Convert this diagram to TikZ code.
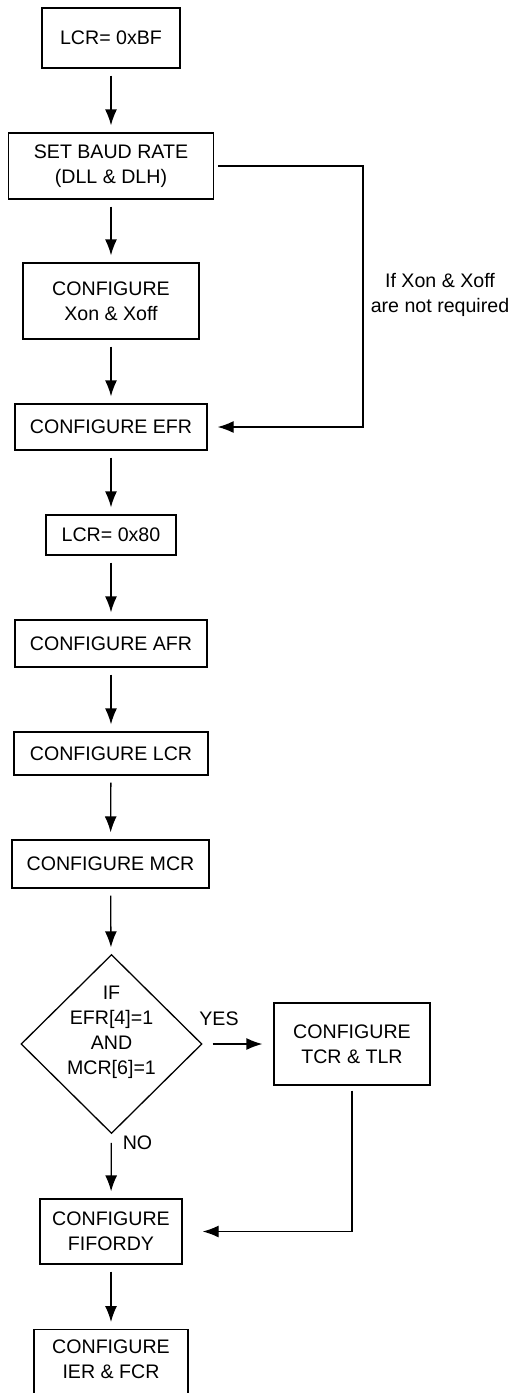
\documentclass[tikz,border=0pt]{standalone}
\usepackage{fontspec}
\setmainfont{Liberation Sans}
\usepackage{tikz}
\usetikzlibrary{arrows.meta,positioning,shapes.geometric,calc}

\begin{document}
\begin{tikzpicture}[
      x=0.5pt, y=-0.5pt,
      every node/.style={font=\fontsize{9.8}{12.5}\selectfont},
      stepbox/.style={draw,line width=0.65pt,align=center,inner sep=1pt},
      decision/.style={diamond,draw,line width=0.65pt,align=center,inner sep=-10pt,minimum width=90.5pt,minimum height=89.5pt},
      note/.style={align=center,inner sep=0pt},
      arr/.style={-{Latex[length=8pt,width=6pt]}, line width=0.65pt, shorten <=3.5pt, shorten >=3.5pt}
  ]
    \useasboundingbox (0,0) rectangle (514,1393);

    \node[stepbox,minimum width=69pt,minimum height=30pt] (lcrA) at (111,38) {LCR= 0xBF};
    \node[stepbox,minimum width=102.5pt,minimum height=33pt] (baud) at (111,166)
      {SET BAUD RATE\\(DLL \& DLH)};
    \node[stepbox,minimum width=88pt,minimum height=38pt] (xon) at (111,301)
      {CONFIGURE\\Xon \& Xoff};
    \node[stepbox,minimum width=96pt,minimum height=23pt] (efr) at (111,427) {CONFIGURE EFR};
    \node[stepbox,minimum width=65pt,minimum height=20pt] (lcrB) at (111,535) {LCR= 0x80};
    \node[stepbox,minimum width=96pt,minimum height=23.5pt] (afr) at (111,643.5) {CONFIGURE AFR};
    \node[stepbox,minimum width=97pt,minimum height=21.5pt] (lcr) at (111,753.5) {CONFIGURE LCR};
    \node[stepbox,minimum width=98.5pt,minimum height=24pt] (mcr) at (110.5,864) {CONFIGURE MCR};
    \node[decision,text depth=14pt] (dec) at (111.5,1044)
      {IF\\EFR[4]=1\\AND\\MCR[6]=1};
    \node[stepbox,minimum width=78pt,minimum height=41pt] (tcr) at (352,1044)
      {CONFIGURE\\TCR \& TLR};
    \node[stepbox,minimum width=71pt,minimum height=32.5pt] (fifo) at (111,1231.5)
      {CONFIGURE\\FIFORDY};
    \node[stepbox,minimum width=77pt,anchor=north,inner sep=5pt,text depth=22pt] (ier) at (111,1329)
      {CONFIGURE\\IER \& FCR};

    \node[note] (skipnote) at (440,294.5) {If Xon \& Xoff\\are not required};
    \node[note] (yes) at (219,1019) {YES};
    \node[note] (no) at (137.5,1143) {NO};
    \coordinate (skip) at (363,300);

    \draw[arr] (lcrA) -- (baud);
    \draw[arr] (baud) -- (xon);
    \draw[arr] (xon) -- (efr);
    \draw[arr] (efr) -- (lcrB);
    \draw[arr] (lcrB) -- (afr);
    \draw[arr] (afr) -- (lcr);
    \draw[arr] (lcr) -- (mcr);
    \draw[arr] (mcr) -- (dec);
    \draw[arr,shorten <=4.5pt] (dec) -- (fifo);
    \draw[arr] (fifo) -- (ier);
    \draw[arr,shorten <=5pt,shorten >=5.5pt] (dec) -- (tcr);
    \draw[arr,shorten <=2pt,shorten >=5pt] (baud.east) -| (skip) |- (efr.east);
    \draw[arr,shorten <=2.5pt,shorten >=10pt] (tcr.south) |- (fifo.east);
  \end{tikzpicture}
\end{document}
